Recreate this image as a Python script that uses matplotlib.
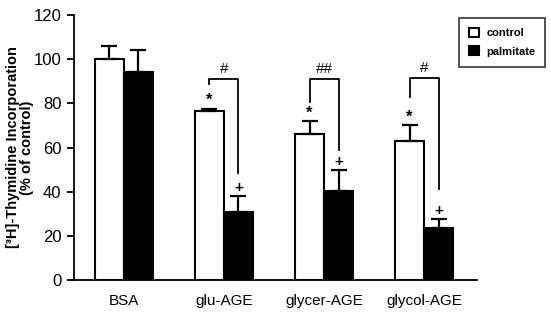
import numpy as np
import matplotlib.pyplot as plt

plt.rcParams['font.family'] = ['Liberation Sans', 'DejaVu Sans']

groups = ['BSA', 'glu-AGE', 'glycer-AGE', 'glycol-AGE']
control = [100, 76.5, 66, 63]
control_err = [6, 1, 6, 7]
palmitate = [94, 31, 40.5, 23.5]
palmitate_err = [10, 7, 9.5, 4]

# brackets: (group index, top, left leg bottom, right leg bottom, label)
brackets = [(1, 91, 89, 48.5, '#'), (2, 91, 80.5, 59, '##'), (3, 91.5, 83, 41, '#')]

x = np.arange(len(groups))
w = 0.29

fig = plt.figure(figsize=(5.51, 3.12), dpi=100)
ax = fig.add_axes([0.134, 0.1026, 0.732, 0.849])

ekw = dict(ecolor='black', elinewidth=1.6, capsize=6, capthick=1.6)
ax.bar(x - w / 2, control, w, color='white', edgecolor='black', linewidth=1.5,
       yerr=[[0] * 4, control_err], error_kw=ekw, label='control', zorder=2)
ax.bar(x + w / 2, palmitate, w, color='black', edgecolor='black', linewidth=1.5,
       yerr=[[0] * 4, palmitate_err], error_kw=ekw, label='palmitate', zorder=2)

# significance marks
for i in range(1, 4):
    ax.text(x[i] - w / 2, control[i] + control_err[i] + 0.3, '*', ha='center', va='bottom', fontsize=12, fontweight='bold')
    ax.text(x[i] + w / 2, palmitate[i] + palmitate_err[i] + 0.5, '+', ha='center', va='bottom', fontsize=11, fontweight='bold')

for i, top, lb, rb, lab in brackets:
    ax.plot([x[i] - w / 2, x[i] - w / 2, x[i] + w / 2, x[i] + w / 2], [lb, top, top, rb],
            color='black', linewidth=1.3, clip_on=False)
    ax.text(x[i], top + 1.5, lab, ha='center', va='bottom', fontsize=11)

ax.set_xlim(-0.5, 3.53)
ax.set_ylim(0, 120)
ax.set_yticks(np.arange(0, 121, 20))
ax.set_xticks(x)
ax.set_xticklabels(groups, fontsize=11)
ax.tick_params(axis='x', length=0, pad=10)
ax.tick_params(axis='y', direction='out', length=5, width=1.3, labelsize=12, pad=4)
for s in ['top', 'right']:
    ax.spines[s].set_visible(False)
ax.spines['left'].set_linewidth(1.3)
ax.spines['bottom'].set_linewidth(1.3)

ax.set_ylabel('[³H]-Thymidine Incorporation\n(% of control)', fontsize=10.5, fontweight='bold', linespacing=1.0)
ax.yaxis.set_label_coords(-0.098, 0.5)

leg = ax.legend(loc='upper left', bbox_to_anchor=(0.94, 1.01),
                prop={'weight': 'bold', 'size': 8},
                frameon=True, fancybox=False, edgecolor='black', handlelength=0.9, handleheight=0.9,
                handletextpad=0.7, borderpad=0.9, labelspacing=0.7)
leg.get_frame().set_linewidth(1.2)

fig.savefig('out.png', dpi=100)
